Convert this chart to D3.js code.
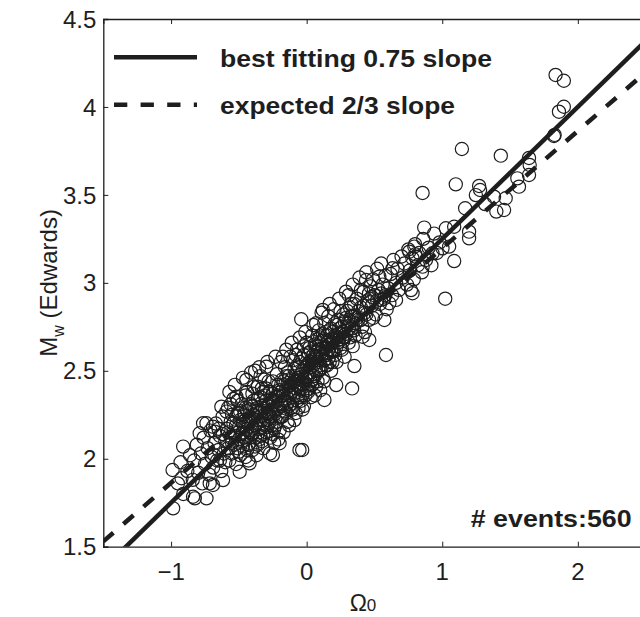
<!DOCTYPE html>
<meta charset="utf-8">
<title>Mw (Edwards) vs Omega0</title>
<style>
body { margin: 0; background: #fff; }
svg { display: block; }
.tick-label { font: 24px "Liberation Sans", Arial, Helvetica, sans-serif; fill: #1e1e1e; }
.axislabel { font: 24px "Liberation Sans", Arial, Helvetica, sans-serif; fill: #1e1e1e; }
.boldtext { font: bold 24px "Liberation Sans", Arial, Helvetica, sans-serif; fill: #1e1e1e; }
.event { fill: none; stroke: #1e1e1e; stroke-width: 1.2px; }
.fit { fill: none; stroke: #1e1e1e; stroke-width: 4.5px; }
</style>
<body>
<svg class="chart"></svg>
<script src="https://d3js.org/d3.v7.min.js"></script>
<script>

var xDomain = [-1.5, 2.5],
    yDomain = [1.5, 4.5];

var xTicks = [-1, 0, 1, 2],
    yTicks = [1.5, 2, 2.5, 3, 3.5, 4, 4.5];

var xTickLabels = ["\u22121", "0", "1", "2"],
    yTickLabels = ["1.5", "2", "2.5", "3", "3.5", "4", "4.5"];

// fitted relations: Mw = slope * Omega0 + intercept
var fitLabels = ["best fitting 0.75 slope", "expected 2/3 slope"],
    fitSlopes = [0.75, 2 / 3],
    fitIntercepts = [2.5, 2.53],
    fitDashes = [null, "13.3,13.3"];

var eventCountLabel = "# events:560";

// [Omega0, Mw]
var outerEvents = [
  [1.145,3.761],[1.432,3.723],[1.100,3.560],[0.855,3.511],[1.272,3.551],[1.279,3.528],[1.248,3.499],
  [1.169,3.424],[1.316,3.448],[1.382,3.490],[1.468,3.481],[1.456,3.414],[1.399,3.405],[1.566,3.547],
  [1.640,3.613],[1.645,3.670],[1.554,3.594],[1.829,3.841],[1.861,3.973],[1.897,4.001],[0.867,3.314],
  [1.027,3.310],[1.051,3.206],[1.198,3.291],[1.198,3.253],[1.088,3.124],[1.022,2.910],[0.794,3.206],
  [0.801,3.162],[0.855,3.092],[0.928,3.168],[1.002,3.196],[0.769,2.959],[0.781,2.941],[0.634,3.083],
  [0.659,2.903],[0.610,2.884],[0.549,2.903],[0.573,2.789],[1.836,4.182],[1.897,4.149],[1.824,3.835],
  [1.640,3.710],[-0.040,2.793],[0.585,2.590],[0.352,2.527],[0.335,2.400],[-0.033,2.050],[-0.911,2.069],
  [-0.989,1.936],[-0.923,1.889],[-0.838,1.784],[-0.739,1.775],[-0.617,1.879],[-0.715,1.860],[-0.249,2.021],
  [-0.494,1.926],[-0.421,1.974],[0.131,2.334],[0.218,2.419],[0.438,3.016],[0.536,3.035],[0.757,3.177],
  [0.119,2.846],[0.070,2.770],[-0.175,2.580],[-0.298,2.523],[-0.445,2.448],[-0.518,2.353],[-0.629,2.296],
  [-0.764,2.202],[-0.789,2.145],[-0.691,2.182],[0.413,2.694],[0.462,2.675],[-0.985,1.718],[-0.825,1.775],
  [-0.691,1.851],[-0.200,2.088],[-0.053,2.050],[-0.739,2.202],[-0.678,2.154],[-0.592,2.268],[1.088,3.319],
  [0.806,3.149]
];

var lowEvents = [
  [-0.95,1.86],[-0.93,1.98],[-0.91,1.80],[-0.88,1.93],[-0.86,2.02],[-0.84,1.88],[-0.83,1.99],[-0.81,2.08],
  [-0.80,1.92],[-0.78,2.03],[-0.77,1.86],[-0.76,2.12],[-0.75,1.97],[-0.73,2.06],[-0.72,1.91],[-0.71,2.16],
  [-0.70,2.01],[-0.69,1.95],[-0.68,2.09],[-0.67,2.20],[-0.66,1.99],[-0.65,2.05],[-0.64,2.13],[-0.63,1.93],
  [-0.62,2.24],[-0.61,2.03],[-0.60,2.10],[-0.60,1.98]
];

var coreEvents = [
  [-0.59,2.17],[-0.58,2.06],[-0.58,2.29],[-0.57,1.99],[-0.56,2.12],[-0.56,2.21],[-0.55,2.03],[-0.54,2.15],
  [-0.54,2.34],[-0.53,2.08],[-0.52,2.19],[-0.52,1.97],[-0.51,2.26],[-0.50,2.11],[-0.50,2.04],[-0.49,2.22],
  [-0.48,2.14],[-0.48,2.31],[-0.47,2.07],[-0.46,2.18],[-0.46,2.25],[-0.45,2.01],[-0.44,2.13],[-0.44,2.38],
  [-0.43,2.20],[-0.42,2.09],[-0.42,2.28],[-0.41,2.16],[-0.40,2.23],[-0.40,2.05],[-0.39,2.33],[-0.38,2.12],
  [-0.38,2.19],[-0.37,2.27],[-0.36,2.08],[-0.36,2.41],[-0.35,2.17],[-0.34,2.24],[-0.34,2.13],[-0.33,2.30],
  [-0.32,2.20],[-0.32,2.06],[-0.31,2.36],[-0.30,2.26],[-0.30,2.15],[-0.29,2.22],[-0.28,2.44],[-0.28,2.31],
  [-0.27,2.12],[-0.26,2.28],[-0.26,2.19],[-0.25,2.37],[-0.24,2.25],[-0.24,2.09],[-0.23,2.33],[-0.22,2.21],
  [-0.22,2.48],[-0.21,2.29],[-0.20,2.16],[-0.20,2.39],
  [-0.57,2.38],[-0.53,2.42],[-0.49,2.02],[-0.47,2.46],[-0.43,1.99],[-0.41,2.49],[-0.37,2.02],[-0.35,2.52],
  [-0.33,2.10],[-0.29,2.55],[-0.27,2.03],[-0.25,2.14],[-0.23,2.58],[-0.21,2.11],[-0.55,2.25],[-0.51,2.33],
  [-0.45,2.36],[-0.39,2.41],[-0.31,2.45],[-0.44,2.27],[-0.40,2.30],[-0.36,2.34],[-0.32,2.38],[-0.28,2.20],
  [-0.34,2.47],[-0.38,2.50],
  [-0.19,2.31],[-0.18,2.24],[-0.18,2.45],[-0.17,2.36],[-0.16,2.27],[-0.16,2.52],[-0.15,2.40],[-0.14,2.32],
  [-0.14,2.21],[-0.13,2.47],[-0.12,2.37],[-0.12,2.58],[-0.11,2.29],[-0.10,2.43],[-0.10,2.35],[-0.09,2.51],
  [-0.08,2.40],[-0.08,2.26],[-0.07,2.62],[-0.06,2.46],[-0.06,2.38],[-0.05,2.55],[-0.04,2.33],[-0.04,2.48],
  [-0.03,2.42],[-0.02,2.59],[-0.02,2.30],[-0.01,2.52],[0.00,2.45],[0.00,2.66],[0.01,2.38],[0.02,2.55],
  [0.02,2.49],[0.03,2.61],[0.04,2.42],[0.04,2.70],[0.05,2.53],[0.06,2.47],[0.06,2.36],[0.07,2.64],
  [0.08,2.56],[0.08,2.44],[0.09,2.73],[0.10,2.60],[0.10,2.51],[0.11,2.67],[0.12,2.46],[0.12,2.58],
  [0.13,2.77],[0.14,2.63],[0.14,2.53],[0.15,2.70],[0.16,2.57],[0.16,2.81],[0.17,2.65],[0.18,2.50],
  [0.18,2.74],[0.19,2.61],[0.20,2.68],[0.20,2.85],
  [-0.19,2.55],[-0.17,2.15],[-0.15,2.62],[-0.13,2.19],[-0.11,2.66],[-0.09,2.22],[-0.07,2.33],[-0.05,2.69],
  [-0.03,2.28],[-0.01,2.72],[0.01,2.60],[0.03,2.35],[0.05,2.76],[0.07,2.41],[0.09,2.50],[0.11,2.83],
  [0.13,2.44],[0.15,2.59],[0.17,2.88],[0.19,2.55],[-0.14,2.43],[-0.10,2.56],[-0.06,2.29],[-0.02,2.64],
  [0.02,2.40],[0.06,2.58],[0.10,2.39],[0.14,2.72],[0.18,2.62],[-0.08,2.59]
];

var denseEvents = [
  [-0.55,2.09],[-0.54,2.20],[-0.53,2.13],[-0.52,2.24],[-0.51,2.06],[-0.50,2.18],[-0.49,2.27],[-0.48,2.10],
  [-0.47,2.21],[-0.46,2.12],[-0.45,2.29],[-0.44,2.17],[-0.43,2.08],[-0.42,2.23],[-0.41,2.31],[-0.40,2.14],
  [-0.39,2.25],[-0.38,2.07],[-0.37,2.20],[-0.36,2.29],[-0.35,2.11],[-0.34,2.35],[-0.33,2.22],[-0.32,2.14],
  [-0.31,2.27],[-0.30,2.33],[-0.29,2.18],[-0.28,2.26],[-0.27,2.38],[-0.26,2.23],[-0.25,2.31],[-0.24,2.17],
  [-0.23,2.27],[-0.22,2.35],[-0.21,2.42],[-0.20,2.24],[-0.19,2.38],[-0.18,2.30],[-0.17,2.44],[-0.16,2.33],
  [-0.15,2.26],[-0.14,2.49],[-0.13,2.39],[-0.12,2.31],[-0.11,2.45],[-0.10,2.28],[-0.09,2.37],[-0.08,2.47],
  [-0.07,2.53],[-0.06,2.41],[-0.05,2.35],[-0.04,2.57],[-0.03,2.50],[-0.02,2.44],[-0.01,2.36],[0.00,2.53],
  [0.01,2.47],[0.02,2.63],[0.03,2.52],[0.04,2.45],[0.05,2.59],[0.06,2.65],[0.07,2.50],[0.08,2.61],
  [0.09,2.55],[0.10,2.69],[0.11,2.52],[0.12,2.63],[0.13,2.56],[0.14,2.60],[0.15,2.66],[0.16,2.62],
  [0.17,2.55],[0.18,2.68],[0.19,2.72],[0.20,2.61],[0.21,2.70],[0.22,2.64],[0.23,2.79],[0.24,2.68],
  [0.25,2.63],[0.26,2.75],[0.27,2.67],[0.28,2.78],[0.29,2.71],[0.30,2.84],[0.31,2.74],[0.32,2.69],
  [0.33,2.81],[0.34,2.76],[0.35,2.88],[0.36,2.77],[0.38,2.84],[0.40,2.79],[0.42,2.87],[0.44,2.82],
  [0.46,2.94],[0.48,2.92],
  [-0.50,2.26],[-0.47,2.15],[-0.45,2.22],[-0.42,2.15],[-0.40,2.37],[-0.38,2.28],[-0.36,2.22],[-0.33,2.40],
  [-0.31,2.19],[-0.29,2.30],[-0.27,2.24],[-0.25,2.44],[-0.23,2.19],[-0.21,2.36],[-0.19,2.24],[-0.17,2.29],
  [-0.15,2.47],[-0.13,2.30],[-0.11,2.38],[-0.09,2.44],[-0.07,2.46],[-0.05,2.40],[-0.03,2.36],[-0.01,2.46],
  [0.01,2.54],[0.03,2.44],[0.05,2.47],[0.07,2.58],[0.09,2.62],[0.11,2.59],[0.13,2.68],[0.15,2.53],
  [0.17,2.73],[0.19,2.66],[0.21,2.77],[0.23,2.71],[0.26,2.68],[0.29,2.80],[0.32,2.78],[0.35,2.73],
  [-0.44,2.05],[-0.39,2.17],[-0.35,2.26],[-0.30,2.40],[-0.26,2.34],[-0.22,2.28],[-0.18,2.36],[-0.12,2.42],
  [-0.06,2.52],[0.00,2.39],[0.04,2.55],[0.08,2.68],[0.12,2.71],[0.16,2.67],[-0.58,2.15],[-0.56,2.31],
  [-0.62,2.14],[-0.65,2.17],[-0.68,2.02],[-0.64,1.99]
];

var highEvents = [
  [0.21,2.59],[0.22,2.76],[0.23,2.66],[0.24,2.91],[0.25,2.71],[0.26,2.62],[0.27,2.82],[0.28,2.69],
  [0.29,2.95],[0.30,2.77],[0.31,2.66],[0.32,2.86],[0.33,2.74],[0.34,2.99],[0.35,2.81],[0.36,2.70],
  [0.37,2.91],[0.38,2.79],[0.39,3.03],[0.40,2.86],[0.41,2.75],[0.42,2.95],[0.43,2.83],[0.44,3.06],
  [0.45,2.90],[0.46,2.79],[0.47,2.98],[0.48,2.87],[0.49,3.02],[0.50,2.93],[0.51,2.82],[0.52,3.08],
  [0.53,2.96],[0.54,2.88],[0.55,3.11],[0.56,2.99],[0.57,2.91],[0.58,3.04],[0.59,2.85],[0.60,2.97],
  [0.22,2.55],[0.25,2.84],[0.28,2.58],[0.31,2.93],[0.34,2.64],[0.37,2.80],[0.40,2.96],[0.43,2.72],
  [0.46,2.89],[0.49,2.80],[0.52,2.90],[0.55,2.94],[0.58,2.93],[0.24,2.74],[0.33,2.88],[0.27,2.72],
  [0.62,3.05],[0.63,2.93],[0.64,3.13],[0.66,3.00],[0.67,3.08],[0.68,2.96],[0.70,3.15],[0.71,3.03],
  [0.72,3.11],[0.74,2.99],[0.75,3.19],[0.76,3.07],[0.78,3.14],[0.79,3.02],[0.80,3.22],[0.82,3.10],
  [0.83,3.17],[0.85,3.06],[0.86,3.25],[0.88,3.13],[0.90,3.20],[0.92,3.10],[0.94,3.28],[0.96,3.17],
  [0.98,3.23]
];

var events = lowEvents.concat(coreEvents, denseEvents, highEvents, outerEvents);

var margin = {top: 19, left: 103.3},
    width = 542.3,
    height = 527.7;

var svg = d3.select(".chart")
    .attr("width", 640)
    .attr("height", 617);

var x = d3.scaleLinear().domain(xDomain).range([0, width]);
var y = d3.scaleLinear().domain(yDomain).range([height, 0]);

var chart = svg.append("g")
    .attr("transform", "translate(" + margin.left + "," + margin.top + ")");

chart.append("clipPath")
    .attr("id", "plot-clip")
  .append("rect")
    .attr("width", width)
    .attr("height", height);

var plot = chart.append("g").attr("clip-path", "url(#plot-clip)");

plot.selectAll(".event")
    .data(events)
  .enter().append("circle")
    .attr("class", "event")
    .attr("cx", function(d) { return x(d[0]); })
    .attr("cy", function(d) { return y(d[1]); })
    .attr("r", 6.6);

var line = d3.line()
    .x(function(d) { return x(d[0]); })
    .y(function(d) { return y(d[1]); });

fitSlopes.forEach(function(s, i) {
  var pts = xDomain.map(function(v) { return [v, s * v + fitIntercepts[i]]; });
  plot.append("path")
      .attr("class", "fit")
      .attr("d", line(pts))
      .attr("stroke-dasharray", fitDashes[i]);
});

// axes, MATLAB style: ticks point inward
var tickLen = 5;

chart.append("g")
    .attr("transform", "translate(0," + height + ")")
    .call(d3.axisBottom(x).tickValues(xTicks).tickSize(-tickLen).tickFormat(""));
chart.append("g")
    .call(d3.axisTop(x).tickValues(xTicks).tickSize(-tickLen).tickFormat(""));
chart.append("g")
    .call(d3.axisLeft(y).tickValues(yTicks).tickSize(-tickLen).tickFormat(""));
chart.append("g")
    .attr("transform", "translate(" + width + ",0)")
    .call(d3.axisRight(y).tickValues(yTicks).tickSize(-tickLen).tickFormat(""));

chart.selectAll(".domain")
    .attr("stroke", "#1e1e1e")
    .attr("stroke-width", 1.3);
chart.selectAll(".tick line")
    .attr("stroke", "#1e1e1e")
    .attr("stroke-width", 1);

chart.selectAll(".xlab")
    .data(xTicks)
  .enter().append("text")
    .attr("class", "tick-label")
    .attr("x", function(d) { return x(d); })
    .attr("y", height + 33)
    .attr("text-anchor", "middle")
    .text(function(d, i) { return xTickLabels[i]; });

chart.selectAll(".ylab")
    .data(yTicks)
  .enter().append("text")
    .attr("class", "tick-label")
    .attr("x", -7)
    .attr("y", function(d) { return y(d); })
    .attr("dy", "0.36em")
    .attr("text-anchor", "end")
    .text(function(d, i) { return yTickLabels[i]; });

// axis labels
var xl = svg.append("text")
    .attr("class", "axislabel")
    .attr("x", 363)
    .attr("y", 611)
    .attr("text-anchor", "middle")
    .style("font-size", "23px");
xl.append("tspan").text("\u03A9");
xl.append("tspan").style("font-size", "17px").text("0");

var yl = svg.append("text")
    .attr("class", "axislabel")
    .attr("transform", "translate(57," + (margin.top + height / 2) + ") rotate(-90)")
    .attr("text-anchor", "middle");
yl.append("tspan").text("M");
yl.append("tspan").attr("dy", 7).style("font-size", "16px").text("w");
yl.append("tspan").attr("dy", -7).text(" (Edwards)");

// legend
var legendY = [57.3, 104.7],
    legendTextLen = [272, 235];

fitLabels.forEach(function(label, i) {
  svg.append("line")
      .attr("class", "fit")
      .attr("x1", 114).attr("x2", 197)
      .attr("y1", legendY[i]).attr("y2", legendY[i])
      .attr("stroke-dasharray", fitDashes[i]);
  svg.append("text")
      .attr("class", "boldtext")
      .attr("x", 220)
      .attr("y", legendY[i] + 9.5)
      .attr("textLength", legendTextLen[i])
      .attr("lengthAdjust", "spacingAndGlyphs")
      .text(label);
});

svg.append("text")
    .attr("class", "boldtext")
    .attr("x", 470.7)
    .attr("y", 527.3)
    .attr("textLength", 161)
    .attr("lengthAdjust", "spacingAndGlyphs")
    .text(eventCountLabel);

</script>
